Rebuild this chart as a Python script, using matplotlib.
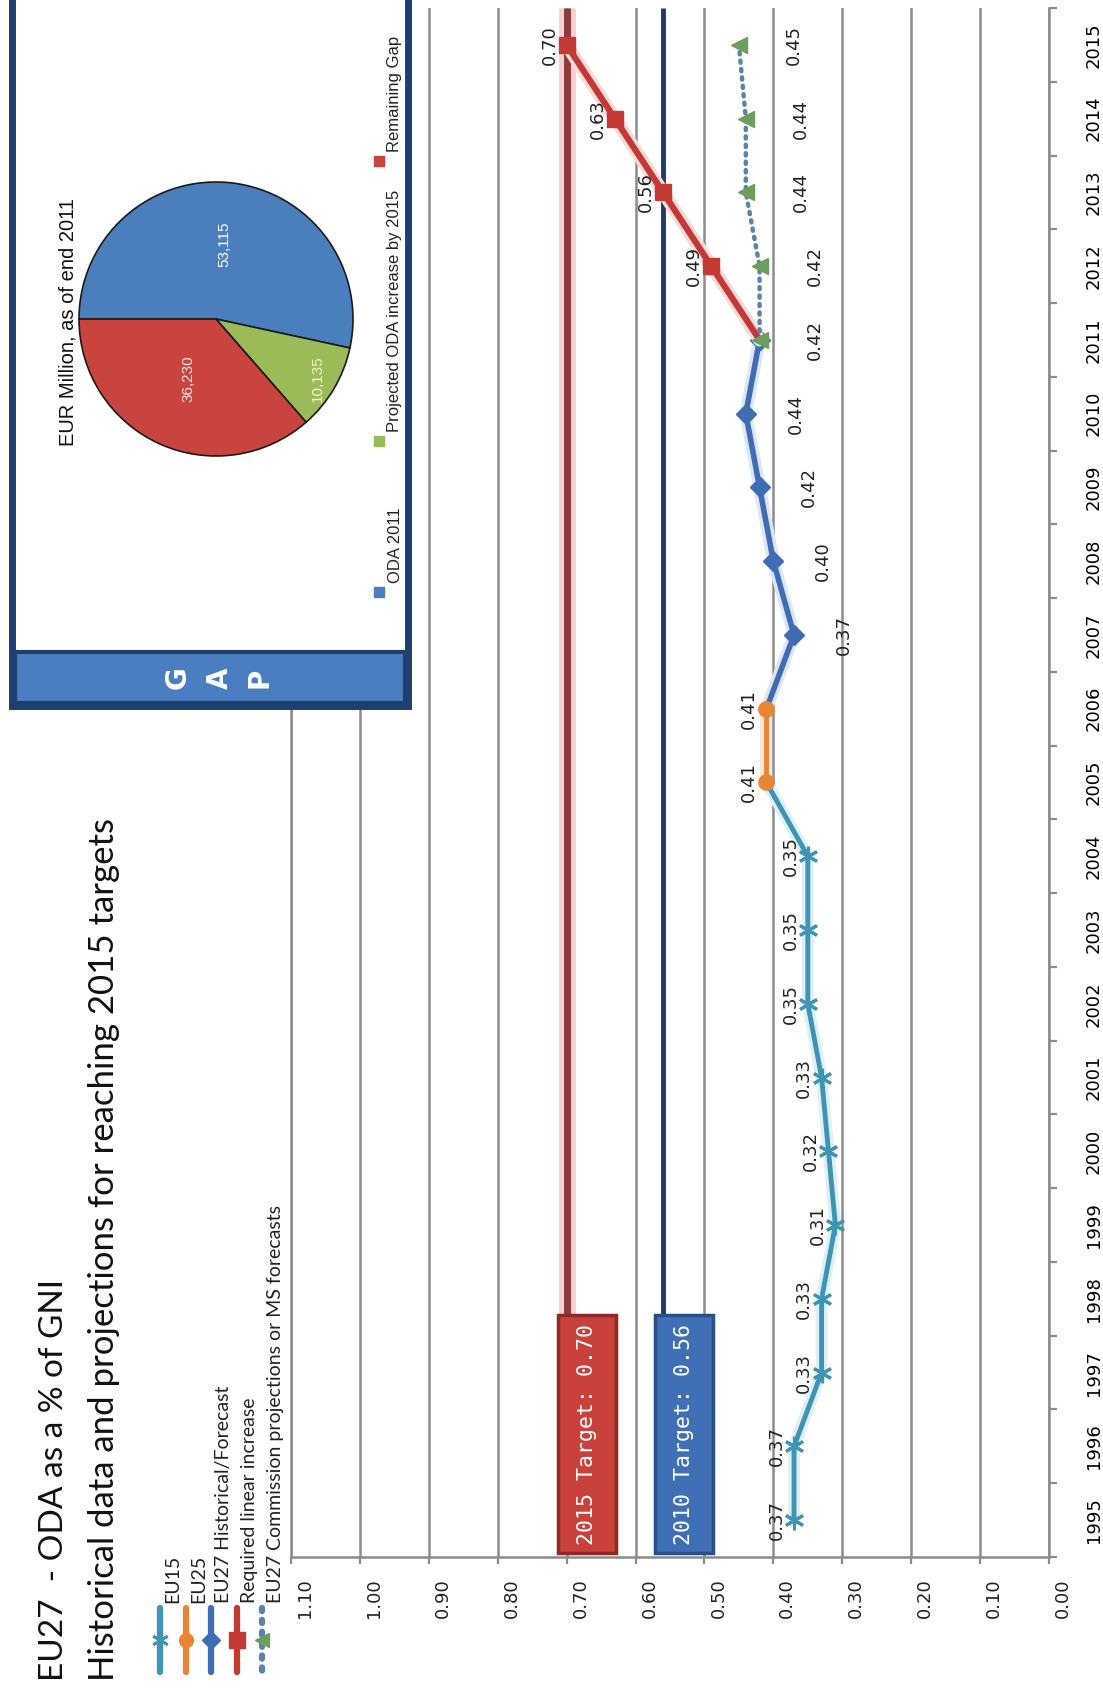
import numpy as np
import matplotlib
matplotlib.use("Agg")
import matplotlib.pyplot as plt
from matplotlib.patches import Rectangle
from matplotlib import transforms

# ---- data ----
eu15_years = [1995, 1996, 1997, 1998, 1999, 2000, 2001, 2002, 2003, 2004, 2005]
eu15_vals = [0.37, 0.37, 0.33, 0.33, 0.31, 0.32, 0.33, 0.35, 0.35, 0.35, 0.41]
eu25_years = [2005, 2006]
eu25_vals = [0.41, 0.41]
eu27_years = [2006, 2007, 2008, 2009, 2010, 2011]
eu27_vals = [0.41, 0.37, 0.40, 0.42, 0.44, 0.42]
req_years = [2011, 2012, 2013, 2014, 2015]
req_vals = [0.42, 0.49, 0.56, 0.63, 0.70]
proj_years = [2011, 2012, 2013, 2014, 2015]
proj_vals = [0.42, 0.42, 0.44, 0.44, 0.45]
target_2015 = 0.70
target_2010 = 0.56
value_ticks = [0.0, 0.1, 0.2, 0.3, 0.4, 0.5, 0.6, 0.7, 0.8, 0.9, 1.0, 1.1]
years = list(range(1995, 2016))

legend_names = ["EU15", "EU25", "EU27 Historical/Forecast",
                "Required linear increase",
                "EU27 Commission projections or MS forecasts"]

pie_names = ["ODA 2011", "Projected ODA increase by 2015", "Remaining Gap"]
pie_vals = [53115, 10135, 36230]

# ---- styles ----
C_EU15 = "#3F93B4"
C_EU25 = "#EA8535"
C_EU27 = "#3F6DB3"
C_REQ = "#C23A33"
C_PROJ_LINE = "#5B82A8"
C_PROJ_MK = "#6C9E5C"
C_GRID = "#8C8C8C"
pie_colors = ["#4A7EBD", "#9BBB59", "#C9443F"]

W, H = 1103, 1693
fig = plt.figure(figsize=(W / 100, H / 100), dpi=100)
fig.patch.set_facecolor("white")

# main chart, drawn sideways (values left-right, years bottom-top)
ax = fig.add_axes([291 / W, 1 - 1557 / H, (1049 - 291) / W, (1557 - 8) / H])
ax.set_xlim(1.10, 0.0)
ax.set_ylim(years[0] - 0.5, years[-1] + 0.5)

ax.set_xticks(value_ticks)
ax.xaxis.grid(True, color=C_GRID, lw=1.8)
ax.set_axisbelow(True)
ax.tick_params(axis="x", direction="out", length=5, width=1.6,
               color=C_GRID, labelbottom=False)

ax.yaxis.tick_right()
ax.set_yticks(years)
ax.set_yticks([y - 0.5 for y in years] + [years[-1] + 0.5], minor=True)
ax.set_yticklabels([str(y) for y in years], rotation=90, fontsize=13)
ax.tick_params(axis="y", which="major", length=0, pad=26)
ax.tick_params(axis="y", which="minor", direction="out", length=6,
               width=1.6, color=C_GRID)
for t in ax.get_yticklabels():
    t.set_va("center")

ax.spines["top"].set_visible(False)
for s in ["left", "right", "bottom"]:
    ax.spines[s].set_color(C_GRID)
    ax.spines[s].set_linewidth(1.8)

# value labels under the axis (offset slightly right like the original)
lab_tr = transforms.blended_transform_factory(ax.transData, ax.transAxes) + \
    transforms.ScaledTranslation(0.14, -0.21, fig.dpi_scale_trans)
for v in value_ticks:
    ax.text(v, 0, f"{v:.2f}", transform=lab_tr, rotation=90, ha="center",
            va="top", fontsize=13, color="#222222")

# target lines and boxes
box_low, box_high = years[0] - 0.45, years[0] + 2.78
ax.plot([target_2015, target_2015], [box_high, years[-1] + 0.5],
        color="#F3CFCF", lw=12, solid_capstyle="butt", zorder=2)
ax.plot([target_2015, target_2015], [box_high, years[-1] + 0.5],
        color="#8E3A3A", lw=5, solid_capstyle="butt", zorder=2)
ax.plot([target_2010, target_2010], [box_high, years[-1] + 0.5],
        color="#1F3B66", lw=3.5, solid_capstyle="butt", zorder=2)

for tgt, fc, ec, label in [(target_2015, "#C8413B", "#8E2A26", "2015 Target: 0.70"),
                           (target_2010, "#3F6FB5", "#2A4F86", "2010 Target: 0.56")]:
    ax.add_patch(Rectangle((tgt + 0.012, box_low), -0.084, box_high - box_low,
                           fc=fc, ec=ec, lw=2.5, zorder=3, clip_on=False))
    ax.text(tgt + 0.012 - 0.042, (box_low + box_high) / 2, label, rotation=90,
            ha="center", va="center", color="white", fontsize=15.5,
            family="DejaVu Sans Mono", zorder=4)

# series: soft glow first, then the line with markers
series = [
    (eu15_vals, eu15_years, C_EU15, "#DDF0F6", 3.5,
     dict(marker=(6, 2, 0), ms=14, mew=2.2, markevery=list(range(10))), 5),
    (eu25_vals, eu25_years, C_EU25, "#FBE5D3", 3.5,
     dict(marker="o", ms=11), 6),
    (eu27_vals, eu27_years, C_EU27, "#DCE6F4", 4,
     dict(marker="D", ms=10, markevery=list(range(1, 6))), 5),
    (req_vals, req_years, C_REQ, "#F6DADA", 4.5,
     dict(marker="s", ms=12, markevery=list(range(1, 5))), 6),
]
for xs, ys, col, glow, lw, mk, z in series:
    ax.plot(xs, ys, color=glow, lw=lw + 5, solid_capstyle="round", zorder=z - 1)
    ax.plot(xs, ys, color=col, lw=lw, zorder=z, **mk)
ax.plot(proj_vals, proj_years, color=C_PROJ_LINE, lw=3.2,
        linestyle=(0, (0.5, 1.4)), dash_capstyle="round", marker="<", ms=12,
        mfc=C_PROJ_MK, mec=C_PROJ_MK, zorder=7)

# data labels
lab_kw = dict(rotation=90, ha="center", va="center", fontsize=13,
              color="#222222", zorder=8)
for y, v in zip(eu15_years[:10], eu15_vals[:10]):
    ax.text(v + 0.025, y, f"{v:.2f}", **lab_kw)
for y, v in zip(eu25_years, eu25_vals):
    ax.text(v + 0.025, y, f"{v:.2f}", **lab_kw)
for y, v in zip(eu27_years[1:5], eu27_vals[1:5]):
    ax.text(v - 0.072, y, f"{v:.2f}", **lab_kw)
for y, v in zip(req_years[1:], req_vals[1:]):
    ax.text(v + 0.025, y, f"{v:.2f}", **lab_kw)
for y, v in zip(proj_years, proj_vals):
    ax.text(v - 0.08, y, f"{v:.2f}", **lab_kw)

# overlay in pixel coordinates for title, legend and the GAP box
ov = fig.add_axes([0, 0, 1, 1], zorder=5)
ov.set_xlim(0, W)
ov.set_ylim(H, 0)
ov.axis("off")

title_kw = dict(rotation=90, rotation_mode="anchor", ha="left", va="center",
                family="Lato", color="#111111")
ov.text(54, 1681, "EU27  - ODA as a % of GNI", fontsize=24, **title_kw)
ov.text(104, 1681, "Historical data and projections for reaching 2015 targets",
        fontsize=25, **title_kw)

leg_style = [
    dict(color=C_EU15, marker=(6, 2, 0), ms=12, mew=2, ls="-"),
    dict(color=C_EU25, marker="o", ms=10, ls="-"),
    dict(color=C_EU27, marker="D", ms=9, ls="-"),
    dict(color=C_REQ, marker="s", ms=11, ls="-"),
    dict(color=C_PROJ_LINE, marker="<", ms=10, mfc=C_PROJ_MK, mec=C_PROJ_MK,
         ls=(0, (0.5, 1.4))),
]
for i, (name, st) in enumerate(zip(legend_names, leg_style)):
    lx = 160 + i * 25.5
    ov.plot([lx, lx], [1608, 1672], lw=4.5, solid_capstyle="round",
            dash_capstyle="round", markevery=[], **st)
    ov.plot([lx], [1640], **{k: v for k, v in st.items() if k != "ls"})
    ov.text(lx + 13, 1603, name, rotation=90, rotation_mode="anchor",
            ha="left", va="center", fontsize=14, family="Lato", color="#222222")

# GAP inset box
ov.add_patch(Rectangle((12, -20), 396, 726, fc="white", ec="#1F3F6E", lw=5))
ov.add_patch(Rectangle((15, 652), 390, 51, fc="#4A7EC0", ec="#1F3F6E", lw=3))
for ch, gx in zip("GAP", [178, 220, 260]):
    ov.text(gx, 678, ch, rotation=90, ha="center", va="center", color="white",
            fontsize=20, fontweight="bold")

ov.text(68, 322, "EUR Million, as of end 2011", rotation=90, ha="center",
        va="center", fontsize=14.5, family="Liberation Sans", color="#111111")

leg_y = [592, 441, 161]
ov.scatter([379] * 3, leg_y, marker="s", s=45, c=pie_colors)
for name, ly in zip(pie_names, leg_y):
    ov.text(395, ly - 9, name, rotation=90, rotation_mode="anchor", ha="left",
            va="center", fontsize=12, family="Liberation Sans", color="#222222")

pa = fig.add_axes([79 / W, 1 - 456 / H, 274 / W, 274 / H], zorder=6)
wedges, _ = pa.pie(pie_vals, colors=pie_colors, startangle=180,
                   counterclock=False,
                   wedgeprops=dict(edgecolor="#1A1A1A", linewidth=1.2))
pa.set_xlim(-1, 1)
pa.set_ylim(-1, 1)
for w, r, val, tc in zip(wedges, [0.55, 0.86, 0.48],
                         pie_vals, ["white", "#F4F4C8", "#FBE3E3"]):
    ang = np.deg2rad((w.theta1 + w.theta2) / 2)
    pa.text(r * np.cos(ang), r * np.sin(ang), f"{val:,}", rotation=90,
            ha="center", va="center", fontsize=11, color=tc,
            family="Liberation Sans")

fig.savefig("out.png", dpi=100)
